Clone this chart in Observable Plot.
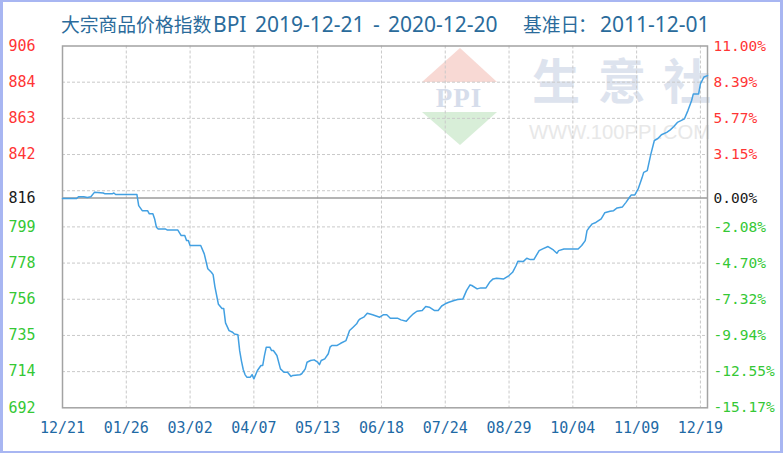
<!DOCTYPE html>
<html>
<head>
<meta charset="utf-8">
<script src="https://cdn.jsdelivr.net/npm/d3@7"></script>
<script src="https://cdn.jsdelivr.net/npm/@observablehq/plot@0.6"></script>
<style>
  body { margin: 0; background: #fff; }
  #wrap { position: relative; width: 783px; height: 453px; background: #fff; overflow: hidden; }
  #wm, #ttl { position: absolute; left: 0; top: 0; }
  #chart { position: absolute; left: 0; top: 0; }
  #border { position: absolute; left: 0; top: 0; width: 783px; height: 453px; box-sizing: border-box; border-style: solid; border-color: #a8b6f2; border-width: 2px 3px 2px 3px; pointer-events: none; }
</style>
</head>
<body>
<div id="wrap">
  <svg id="wm" width="783" height="453">
    <polygon points="422,82 460,48 497,82" fill="#f8d9d4"/>
    <text x="459" y="107" text-anchor="middle" font-family="Liberation Serif, serif" font-weight="bold" font-size="27" fill="#d6ddeb" letter-spacing="1">PPI</text>
    <polygon points="422,112 497,112 460,145" fill="#d8eed8"/>
    <g font-family="Noto Sans CJK SC" font-weight="bold" font-size="48" fill="#dde3ee">
      <text x="532" y="99">生</text>
      <text x="598" y="99">意</text>
      <text x="663" y="99">社</text>
    </g>
    <text x="529" y="139" font-family="Liberation Sans, sans-serif" font-size="21" fill="#e8e8e8" textLength="181" lengthAdjust="spacingAndGlyphs">WWW.100PPI.COM</text>
  </svg>
  <svg id="ttl" width="783" height="45"></svg>
  <div id="chart"></div>
  <div id="border"></div>
</div>
<script>
// title pieces: [text, left x, is CJK]
const titleParts = [
  ["大宗商品价格指数", 61, true],
  ["BPI", 213, false],
  ["2019-12-21", 255, false],
  ["-", 373, false],
  ["2020-12-20", 388, false],
  ["基准日", 523, true],
  ["：", 578, true],
  ["2011-12-01", 600, false]
];

// day index since 2019-12-21, BPI value
const dayIdx = [0,8,9,12,14,16,18,23,24,28,29,30,42,43,45,48,49,51,52,53,54,58,59,65,67,69,70,71,72,78,80,82,84,85,86,88,90,91,92,94,96,97,99,100,101,102,103,104,106,107,108,110,112,113,114,115,117,118,119,121,123,125,127,129,130,134,135,137,138,140,142,144,145,146,148,150,151,152,155,157,160,162,164,166,167,168,170,172,175,179,181,183,185,189,191,194,196,198,200,203,205,207,210,212,214,216,218,221,223,226,228,230,231,234,236,239,241,243,245,249,252,254,256,257,260,262,264,266,269,271,274,277,279,280,283,291,293,295,296,297,299,301,304,306,309,311,313,316,318,320,321,323,325,327,328,330,332,334,336,338,341,343,345,347,349,351,353,355,356,359,360,362,364];
const bpiValue = [816.0,816.0,817.0,817.0,816.6,817.0,819.6,819.2,818.7,818.7,819.2,818.3,818.3,811.8,808.8,808.8,806.9,806.9,803.9,799.0,798.0,798.0,797.4,797.4,794.1,794.1,791.1,791.1,788.2,788.2,783.3,774.5,772.4,771.0,764.0,753.5,751.0,751.0,742.5,738.0,737.0,736.0,735.5,726.0,720.0,715.0,712.0,710.5,710.5,712.0,709.5,714.4,717.4,717.4,723.3,728.2,728.2,726.2,726.2,723.3,715.4,713.4,713.4,710.9,711.5,711.9,712.5,715.4,719.3,720.3,720.7,719.3,717.9,720.3,721.3,724.3,728.2,729.2,729.2,730.5,732.1,738.0,740.0,742.0,743.9,744.9,745.9,748.2,747.3,745.9,747.3,747.3,745.3,745.3,744.3,743.5,745.9,747.9,749.4,749.8,752.2,751.8,749.8,749.8,752.5,753.8,754.7,755.7,756.3,756.7,761.6,765.0,764.6,762.6,763.2,763.2,766.5,768.5,768.9,768.5,770.5,772.4,776.4,778.9,778.7,780.7,779.9,779.9,785.2,786.2,787.6,785.6,783.6,785.2,786.2,786.2,788.2,791.1,797.0,798.5,801.0,801.8,803.9,807.5,808.4,808.8,810.4,811.0,813.7,816.7,818.1,818.1,822.0,828.0,831.4,832.4,842.0,850.2,851.4,853.6,855.0,856.5,858.5,860.9,861.9,863.0,868.0,873.7,877.7,877.7,883.6,887.7,888.5];

const xTickIdx = [0,36,72,108,144,180,216,252,288,324,360];
const xTickLabels = ["12/21","01/26","03/02","04/07","05/13","06/18","07/24","08/29","10/04","11/09","12/19"];

const baseValue = 816.2;
const yMin = 692.4, yMax = 906.0;
const leftLabels  = ["692","714","735","756","778","799","816","842","863","884","906"];
const rightLabels = ["-15.17%","-12.55%","-9.94%","-7.32%","-4.70%","-2.08%","0.00%","3.15%","5.77%","8.39%","11.00%"];
const baseLabelIndex = 6;

const RED = "#ff3535", GREEN = "#35c835", BLACK = "#1a1a1a";

// title
const ttl = d3.select("#ttl");
ttl.selectAll("text").data(titleParts).join("text")
  .attr("x", d => d[1])
  .attr("y", 31.5)
  .attr("fill", "#2a6b9b")
  .attr("font-family", d => d[2] ? "Noto Sans CJK SC" : "Noto Sans, sans-serif")
  .attr("font-size", d => d[2] ? 18.8 : 21)
  .text(d => d[0]);

const gridY = d3.range(11).map(i => yMin + i * (yMax - yMin) / 10);
const labelY = gridY.map((v, i) => i === baseLabelIndex ? baseValue : v);
const labelColor = labelY.map((v, i) => i === baseLabelIndex ? BLACK : (i > baseLabelIndex ? RED : GREEN));
const data = dayIdx.map((d, i) => ({d, v: bpiValue[i]}));

const chart = Plot.plot({
  width: 783,
  height: 453,
  marginTop: 45.5,
  marginBottom: 45.7,
  marginLeft: 62,
  marginRight: 76,
  x: {domain: [0, 364], axis: null},
  y: {domain: [yMin, yMax], axis: null},
  color: {type: "identity"},
  style: {background: "transparent", fontFamily: "DejaVu Sans Mono, monospace", overflow: "visible"},
  marks: [
    Plot.ruleY(gridY.slice(1, -1), {stroke: "#c9c9c9", strokeDasharray: "3,2"}),
    Plot.ruleX(xTickIdx.slice(1), {stroke: "#c9c9c9", strokeDasharray: "3,2"}),
    Plot.ruleY([baseValue], {stroke: "#9b9b9b", strokeWidth: 1.5}),
    Plot.frame({stroke: "#a3a3a3", strokeWidth: 1.5}),
    Plot.line(data, {x: "d", y: "v", stroke: "#42a0e2", strokeWidth: 1.5}),
    Plot.text(leftLabels, {y: (d, i) => labelY[i], frameAnchor: "left", dx: -27, textAnchor: "end", fill: (d, i) => labelColor[i], fontSize: 15}),
    Plot.text(rightLabels, {y: (d, i) => labelY[i], frameAnchor: "right", dx: 6, textAnchor: "start", fill: (d, i) => labelColor[i], fontSize: 14.5}),
    Plot.text(xTickLabels, {x: (d, i) => xTickIdx[i], frameAnchor: "bottom", dy: 25, fill: "#1f6aa5", fontSize: 15})
  ]
});
document.getElementById("chart").appendChild(chart);
</script>
</body>
</html>
